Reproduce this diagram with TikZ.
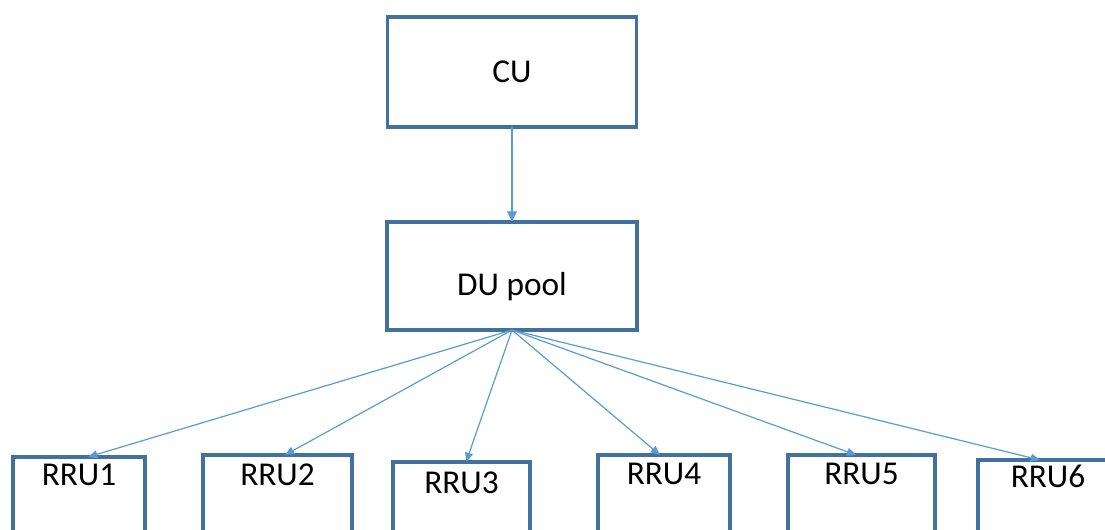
\documentclass[tikz,border=0pt]{standalone}
\usepackage{fontspec}
\setmainfont{Carlito}
\usetikzlibrary{arrows.meta}
\definecolor{boxblue}{HTML}{41719C}
\definecolor{arrowblue}{HTML}{5B9BD5}
\begin{document}
\begin{tikzpicture}[x=0.75pt,y=-0.75pt,
  box/.style={draw=boxblue,line width=2.5pt,fill=white,inner sep=0pt,outer sep=0pt,
    font=\fontsize{25}{29}\selectfont,anchor=north},
  link/.style={draw=arrowblue,line width=0.9pt,-{Triangle[length=7pt,width=6pt]}},
  mainlink/.style={draw=arrowblue,line width=1.5pt,-{Triangle[length=8pt,width=7pt]}}]
\useasboundingbox (0,0) rectangle (1105,529);
\clip (0,0) rectangle (1105,529);
\fill[white] (0,0) rectangle (1105,529);
\node[box,minimum width=249*0.75pt,text height=48.75pt,text depth=33.75pt] (cu) at (512,17) {CU};
\node[box,minimum width=250*0.75pt,text height=54.75pt,text depth=26.25pt] (du) at (512,222) {DU pool};
\node[box,minimum width=132*0.75pt,text height=21pt,text depth=60pt] (r1) at (79,457) {RRU1};
\node[box,minimum width=149*0.75pt,text height=22.5pt,text depth=60pt] (r2) at (277.5,455) {RRU2};
\node[box,minimum width=137*0.75pt,text height=23.25pt,text depth=60pt] (r3) at (461.5,462) {RRU3};
\node[box,minimum width=132*0.75pt,text height=21.75pt,text depth=60pt] (r4) at (664,455) {RRU4};
\node[box,minimum width=147*0.75pt,text height=21.75pt,text depth=60pt] (r5) at (861.5,455) {RRU5};
\node[box,minimum width=140*0.75pt,text height=20.25pt,text depth=60pt] (r6) at (1048,460) {RRU6};
\draw[mainlink] (cu.south) -- (du.north);
\draw[link] (du.south) -- ([xshift=6.75pt]r1.north);
\draw[link] (du.south) -- ([xshift=5.6pt]r2.north);
\draw[link] (du.south) -- ([xshift=3.4pt]r3.north);
\draw[link] (du.south) -- ([xshift=-3pt]r4.north);
\draw[link] (du.south) -- ([xshift=-4pt]r5.north);
\draw[link] (du.south) -- ([xshift=-6pt]r6.north);
\end{tikzpicture}
\end{document}
